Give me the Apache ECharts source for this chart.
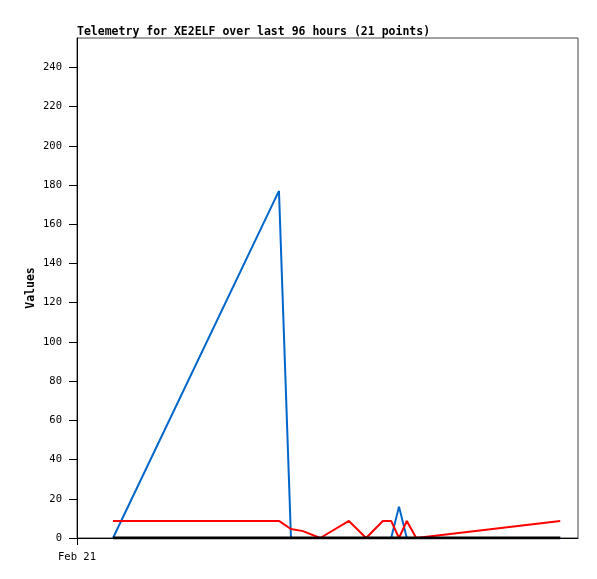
<!DOCTYPE html>
<html>
<head>
<meta charset="utf-8">
<script src="https://cdn.jsdelivr.net/npm/echarts@6/dist/echarts.min.js"></script>
<style>
  html, body { margin: 0; padding: 0; background: #fff; }
  #chart { width: 597px; height: 579px; }
</style>
</head>
<body>
<div id="chart"></div>
<script>
// hours since the start of Feb 21
const hours = [6.9, 38.7, 41.0, 43.3, 46.6, 52.1, 55.4, 58.6, 60.2, 61.7, 63.2, 65.0, 92.6]
const blueValues = [0, 177, 0, 0, 0, 0, 0, 0, 0, 16, 0, 0, 0]
const redValues = [8.7, 8.7, 4.6, 3.5, 0, 8.7, 0, 8.7, 8.7, 0, 8.7, 0, 8.7]
const zeroValues = [0, 0, 0, 0, 0, 0, 0, 0, 0, 0, 0, 0, 0]
const yTicks = [0, 20, 40, 60, 80, 100, 120, 140, 160, 180, 200, 220, 240]
const xTicks = [0]
const xTickLabels = ['Feb 21']

const pair = (vals) => hours.map((h, i) => [h, vals[i]])
const mono = 'DejaVu Sans Mono'

const chart = echarts.init(document.getElementById('chart'))

chart.setOption({
  animation: false,
  backgroundColor: '#fff',
  title: {
    text: 'Telemetry for XE2ELF over last 96 hours (21 points)',
    left: 72, top: 21,
    textStyle: { fontFamily: mono, fontSize: 11.5, fontWeight: 'bold', color: '#000' }
  },
  grid: {
    left: 77, right: 19, top: 38, bottom: 41,
    show: true, borderColor: '#444', borderWidth: 1, backgroundColor: '#fff'
  },
  xAxis: {
    type: 'value',
    min: 0, max: 96,
    splitLine: { show: false },
    axisLine: { lineStyle: { color: '#000', width: 1 } },
    axisTick: { customValues: xTicks, length: 7, lineStyle: { color: '#000' } },
    axisLabel: {
      customValues: xTicks,
      formatter: (v) => xTickLabels[xTicks.indexOf(v)] || '',
      fontFamily: mono, fontSize: 10.5, color: '#000', margin: 14
    }
  },
  yAxis: {
    type: 'value',
    min: 0, max: 255,
    name: 'Values',
    nameLocation: 'middle',
    nameGap: 40,
    nameMoveOverlap: false,
    nameTextStyle: { fontFamily: mono, fontSize: 11.5, fontWeight: 'bold', color: '#000' },
    splitLine: { show: false },
    axisLine: { show: true, lineStyle: { color: '#000', width: 1 } },
    axisTick: { customValues: yTicks, length: 8, lineStyle: { color: '#000' } },
    axisLabel: { customValues: yTicks, fontFamily: mono, fontSize: 10.5, color: '#000', margin: 15 }
  },
  series: [
    {
      type: 'line', data: pair(blueValues), showSymbol: false, z: 2,
      lineStyle: { color: '#0066cc', width: 2 }
    },
    {
      type: 'line', data: pair(redValues), showSymbol: false, z: 3,
      lineStyle: { color: '#ff0000', width: 2 }
    },
    {
      type: 'line', data: pair(zeroValues), showSymbol: false, z: 4,
      lineStyle: { color: '#000', width: 3 }
    }
  ]
})
</script>
</body>
</html>
